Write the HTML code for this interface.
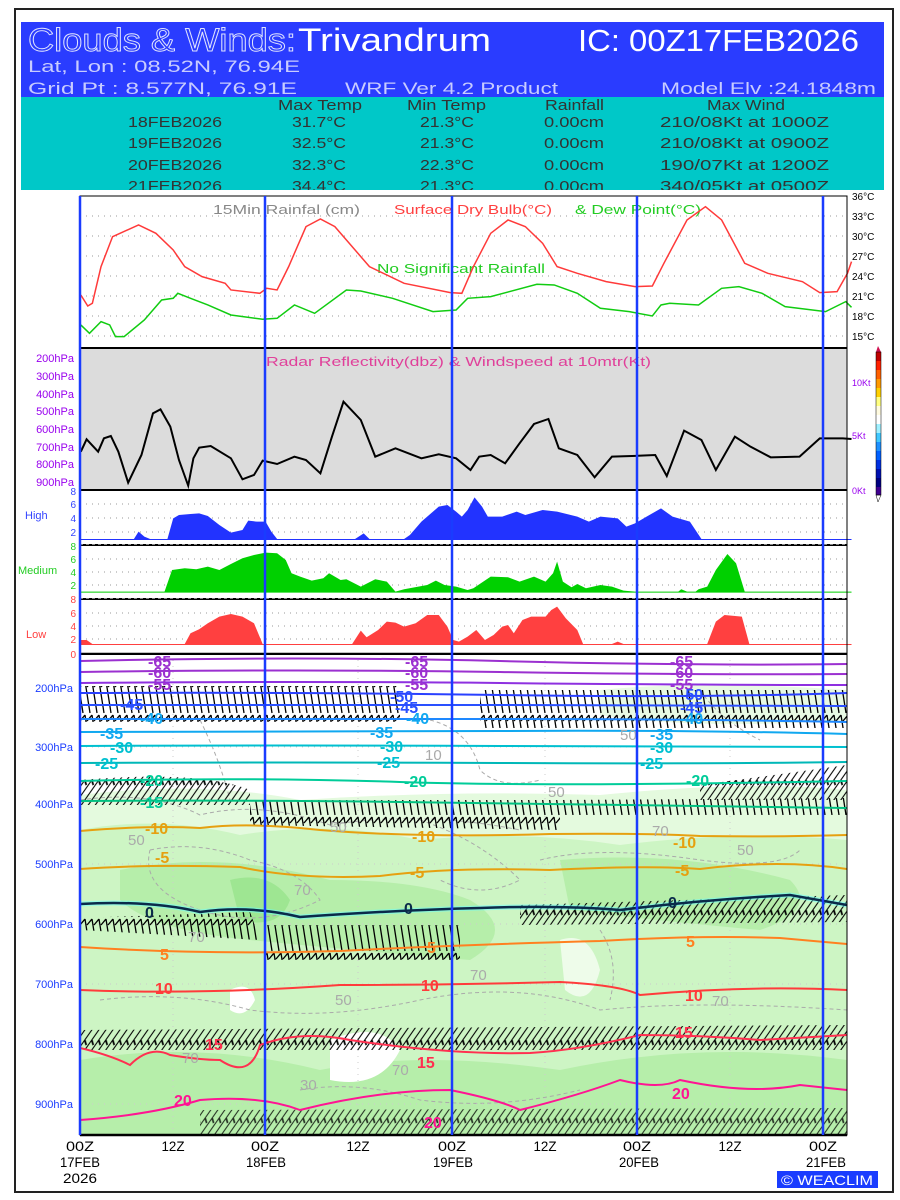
<!DOCTYPE html>
<html><head><meta charset="utf-8"><style>
html,body{margin:0;padding:0;background:#fff}
svg{display:block}
text{font-family:"Liberation Sans",sans-serif}
</style></head><body>
<svg width="900" height="1200" viewBox="0 0 900 1200" xmlns="http://www.w3.org/2000/svg">
<defs>
<pattern id="barb" width="7" height="34" patternUnits="userSpaceOnUse">
<path d="M1 1 L6 33 M1 1 L-4 7 M8 1 L3 7" stroke="#000" stroke-width="1.3" fill="none"/>
</pattern>
<pattern id="barb2" width="7" height="26" patternUnits="userSpaceOnUse" patternTransform="skewX(-35)">
<path d="M1 0 L1 26 M1 0 L6 5" stroke="#000" stroke-width="1.3" fill="none"/>
</pattern>
</defs>
<rect x="15" y="9" width="878" height="1183" fill="#fff" stroke="#222" stroke-width="2"/>
<!-- header -->
<rect x="21" y="22" width="863" height="76" fill="#2a3cff"/>
<rect x="21" y="97" width="863" height="93" fill="#00c8c8"/>
<text x="28" y="51" font-family="Liberation Serif,serif" font-size="32" fill="#2a3cff" stroke="#e0e4ff" stroke-width="0.9" textLength="268" lengthAdjust="spacingAndGlyphs">Clouds &amp; Winds:</text>
<text x="298" y="51" font-family="Liberation Serif,serif" font-size="32" fill="#fff" textLength="193" lengthAdjust="spacingAndGlyphs">Trivandrum</text>
<text x="578" y="51" font-size="31" fill="#fff" textLength="281" lengthAdjust="spacingAndGlyphs">IC: 00Z17FEB2026</text>
<text x="28" y="72" font-size="17" fill="#c8ccff" textLength="272" lengthAdjust="spacingAndGlyphs">Lat, Lon : 08.52N, 76.94E</text>
<text x="28" y="94" font-size="17" fill="#c8ccff" textLength="269" lengthAdjust="spacingAndGlyphs">Grid Pt   : 8.577N, 76.91E</text>
<text x="345" y="94" font-size="17" fill="#c8ccff" textLength="213" lengthAdjust="spacingAndGlyphs">WRF Ver 4.2 Product</text>
<text x="661" y="94" font-size="17" fill="#c8ccff" textLength="215" lengthAdjust="spacingAndGlyphs">Model Elv :24.1848m</text>
<g font-size="15" fill="#333">
<text x="278" y="110" textLength="84" lengthAdjust="spacingAndGlyphs">Max Temp</text>
<text x="407" y="110" textLength="79" lengthAdjust="spacingAndGlyphs">Min Temp</text>
<text x="545" y="110" textLength="59" lengthAdjust="spacingAndGlyphs">Rainfall</text>
<text x="707" y="110" textLength="78" lengthAdjust="spacingAndGlyphs">Max Wind</text>
<text x="128" y="127" textLength="94" lengthAdjust="spacingAndGlyphs">18FEB2026</text>
<text x="292" y="127" textLength="54" lengthAdjust="spacingAndGlyphs">31.7°C</text>
<text x="420" y="127" textLength="54" lengthAdjust="spacingAndGlyphs">21.3°C</text>
<text x="544" y="127" textLength="60" lengthAdjust="spacingAndGlyphs">0.00cm</text>
<text x="660" y="127" textLength="169" lengthAdjust="spacingAndGlyphs">210/08Kt at 1000Z</text>
<text x="128" y="148" textLength="94" lengthAdjust="spacingAndGlyphs">19FEB2026</text>
<text x="292" y="148" textLength="54" lengthAdjust="spacingAndGlyphs">32.5°C</text>
<text x="420" y="148" textLength="54" lengthAdjust="spacingAndGlyphs">21.3°C</text>
<text x="544" y="148" textLength="60" lengthAdjust="spacingAndGlyphs">0.00cm</text>
<text x="660" y="148" textLength="169" lengthAdjust="spacingAndGlyphs">210/08Kt at 0900Z</text>
<text x="128" y="170" textLength="94" lengthAdjust="spacingAndGlyphs">20FEB2026</text>
<text x="292" y="170" textLength="54" lengthAdjust="spacingAndGlyphs">32.3°C</text>
<text x="420" y="170" textLength="54" lengthAdjust="spacingAndGlyphs">22.3°C</text>
<text x="544" y="170" textLength="60" lengthAdjust="spacingAndGlyphs">0.00cm</text>
<text x="660" y="170" textLength="169" lengthAdjust="spacingAndGlyphs">190/07Kt at 1200Z</text>
<text x="128" y="191" textLength="94" lengthAdjust="spacingAndGlyphs">21FEB2026</text>
<text x="292" y="191" textLength="54" lengthAdjust="spacingAndGlyphs">34.4°C</text>
<text x="420" y="191" textLength="54" lengthAdjust="spacingAndGlyphs">21.3°C</text>
<text x="544" y="191" textLength="60" lengthAdjust="spacingAndGlyphs">0.00cm</text>
<text x="660" y="191" textLength="169" lengthAdjust="spacingAndGlyphs">340/05Kt at 0500Z</text>
</g>
<rect x="21" y="190" width="863" height="6" fill="#fff"/>

<!-- temp panel -->
<g stroke="#999" stroke-dasharray="1,5" stroke-width="1">
<line x1="80" y1="216" x2="847" y2="216"/><line x1="80" y1="236" x2="847" y2="236"/><line x1="80" y1="256" x2="847" y2="256"/><line x1="80" y1="276" x2="847" y2="276"/><line x1="80" y1="296" x2="847" y2="296"/><line x1="80" y1="316" x2="847" y2="316"/><line x1="80" y1="336" x2="847" y2="336"/>
</g>
<line x1="80" y1="196" x2="847" y2="196" stroke="#000" stroke-dasharray="3,2"/>
<g stroke="#000" stroke-width="1"><line x1="847" y1="196" x2="847" y2="348"/></g>
<g font-size="10" fill="#000">
<text x="852" y="200">36°C</text><text x="852" y="220">33°C</text><text x="852" y="240">30°C</text><text x="852" y="260">27°C</text><text x="852" y="280">24°C</text><text x="852" y="300">21°C</text><text x="852" y="320">18°C</text><text x="852" y="340">15°C</text>
</g>
<text x="213" y="214" font-size="13" fill="#888" textLength="147" lengthAdjust="spacingAndGlyphs">15Min Rainfal (cm)</text>
<text x="394" y="214" font-size="13" fill="#ff4040" textLength="158" lengthAdjust="spacingAndGlyphs">Surface Dry Bulb(°C)</text>
<text x="575" y="214" font-size="13" fill="#22cc22" textLength="126" lengthAdjust="spacingAndGlyphs">&amp; Dew Point(°C)</text>
<text x="377" y="273" font-size="13" fill="#22cc22" textLength="168" lengthAdjust="spacingAndGlyphs">No Significant Rainfall</text>
<g transform="scale(0.5773,0.3333)" fill="none" stroke-width="1.5">
<polyline vector-effect="non-scaling-stroke" stroke="#ff3a3a" points="140,885 152,918 160,910 175,800 195,710 240,675 270,700 300,750 320,800 350,830 390,850 400,870 450,880 462,865 480,870 500,800 530,680 555,657 580,680 610,740 640,800 700,850 780,878 800,880 820,800 850,700 880,660 910,680 940,730 965,800 1000,820 1050,845 1100,860 1130,858 1150,790 1190,660 1222,620 1250,660 1290,790 1330,820 1390,845 1420,878 1450,875 1468,820 1475,785"/>
<polyline vector-effect="non-scaling-stroke" stroke="#11cc11" points="140,975 155,1000 175,965 190,975 200,1010 215,1010 250,960 280,900 300,895 308,880 330,895 360,915 400,945 455,958 480,955 510,915 545,940 600,870 625,873 680,895 750,935 790,930 810,895 850,890 930,853 960,855 1000,880 1040,925 1090,935 1130,948 1145,915 1160,910 1210,915 1250,865 1280,860 1320,880 1360,920 1430,935 1465,905 1475,922"/>
</g>

<!-- radar panel -->
<rect x="80" y="348" width="767" height="142" fill="#dcdcdc"/>
<line x1="80" y1="348" x2="847" y2="348" stroke="#000" stroke-width="2"/>
<line x1="80" y1="490" x2="847" y2="490" stroke="#000" stroke-width="2"/>
<text x="266" y="366" font-size="13" fill="#e0409a" textLength="385" lengthAdjust="spacingAndGlyphs">Radar Reflectivity(dbz) &amp; Windspeed at 10mtr(Kt)</text>
<g font-size="11" fill="#9900ee" text-anchor="end">
<text x="74" y="362">200hPa</text><text x="74" y="380">300hPa</text><text x="74" y="398">400hPa</text><text x="74" y="415">500hPa</text><text x="74" y="433">600hPa</text><text x="74" y="451">700hPa</text><text x="74" y="468">800hPa</text><text x="74" y="486">900hPa</text>
</g>
<g font-size="9" fill="#9900ee"><text x="852" y="386">10Kt</text><text x="852" y="439">5Kt</text><text x="852" y="494">0Kt</text></g>
<g transform="translate(0,340) scale(0.5773,0.3333)" fill="none">
<polyline vector-effect="non-scaling-stroke" stroke="#000" stroke-width="2" points="140,335 150,298 170,335 180,295 192,288 205,335 222,428 245,345 265,220 278,208 295,260 310,360 326,437 335,355 345,323 365,318 400,355 420,418 440,405 455,362 480,372 510,350 530,360 555,400 575,290 595,185 625,240 650,350 685,325 730,355 760,343 790,355 815,390 830,350 850,345 875,370 900,310 925,252 950,237 968,325 1000,345 1030,412 1060,350 1110,347 1135,345 1155,408 1185,272 1215,300 1240,390 1273,290 1300,320 1335,352 1385,350 1420,295 1460,295 1475,297"/>
</g>
<!-- colorbar -->
<g>
<polygon points="878,346 876,352 881,352" fill="#d01050"/>
<rect x="876" y="352" width="5" height="9" fill="#c00000"/><rect x="876" y="361" width="5" height="9" fill="#ff2000"/><rect x="876" y="370" width="5" height="9" fill="#ff6000"/><rect x="876" y="379" width="5" height="9" fill="#ff9900"/><rect x="876" y="388" width="5" height="9" fill="#ffd000"/><rect x="876" y="397" width="5" height="9" fill="#ffff80"/><rect x="876" y="406" width="5" height="9" fill="#fffbe0"/><rect x="876" y="415" width="5" height="9" fill="#ffffff"/><rect x="876" y="424" width="5" height="9" fill="#a0f0ff"/><rect x="876" y="433" width="5" height="9" fill="#40c8ff"/><rect x="876" y="442" width="5" height="9" fill="#1e90ff"/><rect x="876" y="451" width="5" height="9" fill="#0060ff"/><rect x="876" y="460" width="5" height="9" fill="#0030e0"/><rect x="876" y="469" width="5" height="9" fill="#0010b0"/><rect x="876" y="478" width="5" height="9" fill="#000080"/><rect x="876" y="487" width="5" height="8" fill="#400090"/>
<polygon points="876,495 881,495 878,502" fill="#fff" stroke="#000" stroke-width="0.5"/>
<rect x="876" y="352" width="5" height="143" fill="none" stroke="#000" stroke-width="0.5"/>
</g>

<!-- cloud panels -->
<g stroke="#999" stroke-dasharray="1,5">
<line x1="80" y1="504" x2="847" y2="504"/><line x1="80" y1="518" x2="847" y2="518"/><line x1="80" y1="532" x2="847" y2="532"/>
<line x1="80" y1="559" x2="847" y2="559"/><line x1="80" y1="572" x2="847" y2="572"/><line x1="80" y1="585" x2="847" y2="585"/>
<line x1="80" y1="613" x2="847" y2="613"/><line x1="80" y1="626" x2="847" y2="626"/><line x1="80" y1="639" x2="847" y2="639"/>
</g>
<g transform="translate(0,340) scale(0.5773,0.3333)">
<polygon fill="#2233ff" points="140,597 232,597 240,575 250,590 260,597 290,597 300,535 310,525 330,522 345,520 360,528 380,555 400,578 420,570 430,542 445,545 460,545 470,575 480,597 615,597 630,580 640,597 700,597 710,585 730,545 760,500 775,495 790,515 800,530 810,510 822,472 835,500 845,530 870,530 895,515 910,525 940,510 965,515 1000,530 1020,545 1040,530 1070,535 1085,560 1100,550 1120,530 1145,505 1165,530 1195,545 1215,597 1475,597 1475,600 140,600"/>
<polygon fill="#00d000" points="140,755 285,755 298,690 320,685 340,688 360,680 380,690 400,672 420,655 440,645 460,638 480,640 495,660 505,700 520,710 540,722 560,715 570,700 590,720 600,718 625,740 650,718 670,725 685,755 700,748 740,735 755,722 770,735 790,740 810,750 820,745 850,710 880,712 900,725 925,710 945,725 958,700 965,665 975,725 990,742 1000,732 1015,745 1040,735 1060,740 1080,752 1100,755 1175,755 1180,748 1190,755 1205,755 1210,748 1225,740 1240,690 1260,642 1275,670 1290,755 1475,755 1475,758 140,758"/>
<polygon fill="#ff4040" points="140,900 150,900 160,912 320,912 330,880 345,868 360,850 380,830 400,822 420,830 440,850 455,912 610,912 625,872 635,892 655,870 670,845 685,848 700,860 720,850 740,825 760,825 775,860 785,900 795,905 810,890 825,870 840,900 855,885 870,860 880,855 890,880 905,840 920,830 945,830 955,810 965,800 980,835 1000,870 1010,912 1060,912 1070,905 1080,912 1225,912 1240,845 1255,825 1285,830 1298,912 1475,912 1475,915 140,915"/>
</g>
<line x1="80" y1="545" x2="847" y2="545" stroke="#000" stroke-width="2"/>
<line x1="80" y1="544" x2="847" y2="544" stroke="#fff" stroke-dasharray="3,3"/>
<line x1="80" y1="599" x2="847" y2="599" stroke="#000" stroke-width="2"/>
<line x1="80" y1="598" x2="847" y2="598" stroke="#fff" stroke-dasharray="3,3"/>
<line x1="80" y1="654" x2="847" y2="654" stroke="#000" stroke-width="2.5"/>
<g font-size="10" text-anchor="end">
<g fill="#3344ff"><text x="76" y="495">8</text><text x="76" y="508">6</text><text x="76" y="522">4</text><text x="76" y="536">2</text></g>
<g fill="#22cc22"><text x="76" y="550">8</text><text x="76" y="563">6</text><text x="76" y="576">4</text><text x="76" y="589">2</text></g>
<g fill="#ff4040"><text x="76" y="603">8</text><text x="76" y="617">6</text><text x="76" y="630">4</text><text x="76" y="643">2</text><text x="76" y="658">0</text></g>
</g>
<text x="25" y="519" font-size="11" fill="#3344ff">High</text>
<text x="18" y="574" font-size="11" fill="#22cc22">Medium</text>
<text x="26" y="638" font-size="11" fill="#ff4040">Low</text>

<!-- bottom panel -->
<svg x="80" y="655" width="767" height="480" viewBox="80 655 767 480" overflow="hidden">
<rect x="80" y="655" width="767" height="480" fill="#fff"/>
<path d="M80 795 Q200 780 300 800 Q450 790 600 795 Q750 780 847 790 L847 1135 L80 1135Z" fill="#e4fade"/>
<path d="M80 830 Q160 815 240 835 Q330 820 420 840 Q520 830 620 845 Q740 830 847 840 L847 1135 L80 1135Z" fill="#cdf5c4"/>
<path d="M120 870 Q220 850 330 880 Q420 880 470 900 Q520 930 470 960 Q350 950 250 940 Q150 930 120 900Z" fill="#b6eeaa"/>
<path d="M560 860 Q680 850 790 880 Q820 910 760 930 Q650 920 570 910Z" fill="#b6eeaa"/>
<path d="M230 880 Q270 870 290 900 Q280 930 240 920Z" fill="#9ee692"/>
<path d="M80 1060 Q200 1040 320 1070 Q420 1050 560 1070 Q700 1040 847 1060 L847 1135 L80 1135Z" fill="#b6eeaa"/>
<path d="M330 1040 Q380 1020 400 1050 Q380 1090 330 1080Z" fill="#fff"/>
<path d="M230 990 Q250 980 255 1000 Q245 1020 230 1010Z" fill="#fff"/>
<path d="M560 940 Q590 930 600 970 Q590 1010 565 990Z" fill="#eefcea"/>
<path d="M600 690 Q700 680 847 690 L847 720 Q700 730 600 715Z" fill="#e8fae4"/>
<g stroke="#aaa" stroke-dasharray="4,3" fill="none">
<path d="M80 800 Q150 790 200 815 Q260 800 330 825 Q420 810 520 830"/>
<path d="M150 850 Q200 840 250 860 Q300 870 320 900 Q260 930 200 910 Q140 890 150 850"/>
<path d="M420 820 Q480 840 520 880 Q480 900 440 880"/>
<path d="M540 860 Q600 845 700 860 Q780 870 800 850"/>
<path d="M600 930 Q620 960 610 1000"/>
<path d="M100 1000 Q180 990 250 1010 Q330 1020 420 1000 Q520 980 600 1010 Q700 1000 847 1010"/>
<path d="M300 1090 Q360 1080 420 1100 Q500 1110 580 1090"/>
<path d="M430 720 Q470 730 480 770 Q500 790 540 780"/>
<path d="M200 720 Q220 760 230 800"/>
<path d="M700 690 Q720 720 760 740"/>
</g>
<g stroke="#ccc" stroke-dasharray="1,5"><line x1="80" y1="864" x2="847" y2="864"/><line x1="80" y1="924" x2="847" y2="924"/><line x1="80" y1="984" x2="847" y2="984"/><line x1="80" y1="1104" x2="847" y2="1104"/><line x1="80" y1="747" x2="847" y2="747"/><line x1="173" y1="654" x2="173" y2="1135"/><line x1="358" y1="654" x2="358" y2="1135"/><line x1="545" y1="654" x2="545" y2="1135"/><line x1="730" y1="654" x2="730" y2="1135"/></g>
<!-- wind barbs -->
<g>
<path d="M80 686 L400 686 L400 722 L80 722Z" fill="url(#barb)"/>
<path d="M480 690 L847 690 L847 728 L480 728Z" fill="url(#barb)"/>
<path d="M80 780 Q200 770 250 790 L250 805 L80 805Z" fill="url(#barb2)"/>
<path d="M250 800 L560 800 L560 830 L250 825Z" fill="url(#barb)"/>
<path d="M560 800 L847 798 L847 815 L560 815Z" fill="url(#barb)"/>
<path d="M700 785 L847 765 L847 800 L700 800Z" fill="url(#barb2)"/>
<path d="M80 918 L250 912 L260 940 L80 930Z" fill="url(#barb)"/>
<path d="M265 925 L460 925 L460 960 L265 960Z" fill="url(#barb)"/>
<path d="M520 905 L847 895 L847 922 L520 925Z" fill="url(#barb2)"/>
<path d="M80 1030 L847 1025 L847 1050 L80 1050Z" fill="url(#barb2)"/>
<path d="M200 1110 L847 1108 L847 1135 L200 1135Z" fill="url(#barb2)" opacity="0.8"/>
</g>
<!-- isotherms -->
<g fill="none" stroke-width="2">
<path d="M80 661 Q300 656 500 661 T847 664" stroke="#9b30d0"/>
<path d="M80 672 Q300 669 500 672 T847 674" stroke="#9b30d0"/>
<path d="M80 683 Q300 681 500 683 T847 685" stroke="#8e30e0"/>
<path d="M80 693 Q300 692 500 695 T847 693" stroke="#2a40ff"/>
<path d="M80 705 Q300 705 500 705 T847 706" stroke="#2a50ff"/>
<path d="M80 719 Q300 719 500 719 T847 722" stroke="#1e88ff"/>
<path d="M80 732 Q300 732 500 731 T847 734" stroke="#10a8f0"/>
<path d="M80 746 Q300 745 500 746 T847 747" stroke="#00c0d0"/>
<path d="M80 763 Q300 762 500 763 T847 762" stroke="#00b8b8"/>
<path d="M80 781 Q250 777 400 782 T847 781" stroke="#00cc99"/>
<path d="M80 801 Q250 800 400 802 T847 808" stroke="#00c080"/>
<path d="M80 831 Q150 825 200 828 Q250 822 320 830 Q420 838 550 834 Q650 833 700 836 Q780 837 847 835" stroke="#e6a010"/>
<path d="M80 869 Q150 864 240 867 Q300 880 380 876 Q450 867 550 870 Q650 865 700 869 Q780 859 847 869" stroke="#e6a010"/>
<path d="M80 904 Q150 900 200 912 Q250 905 300 917 Q400 910 480 908 Q560 905 620 910 Q700 900 790 895 L847 905" stroke="#66ffff" stroke-width="5" opacity="0.5"/>
<path d="M80 904 Q150 900 200 912 Q250 905 300 917 Q400 910 480 908 Q560 905 620 910 Q700 900 790 895 L847 905" stroke="#0a2a4a" stroke-width="2.5"/>
<path d="M80 947 Q200 955 340 951 Q450 945 600 941 Q700 935 780 938 L847 944" stroke="#ff8020"/>
<path d="M80 990 Q200 995 340 985 Q450 985 560 982 Q620 985 640 995 Q750 985 847 990" stroke="#ff3b3b"/>
<path d="M80 1048 Q110 1055 130 1065 Q150 1045 170 1055 Q200 1060 220 1060 Q250 1080 260 1045 Q300 1030 350 1040 Q450 1055 530 1053 Q580 1050 640 1035 Q700 1035 760 1040 L847 1035" stroke="#ff3050"/>
<path d="M80 1120 Q150 1115 200 1100 Q260 1095 300 1110 Q380 1090 450 1090 Q500 1100 520 1110 Q580 1095 620 1080 Q660 1090 680 1080 Q750 1095 800 1085 L847 1090" stroke="#ff1493"/>
</g>
<g font-size="16" font-weight="bold">
<g fill="#9b30d0"><text x="148" y="667">-65</text><text x="148" y="678">-60</text><text x="148" y="690">-55</text><text x="405" y="667">-65</text><text x="405" y="678">-60</text><text x="405" y="690">-55</text><text x="670" y="667">-65</text><text x="670" y="678">-60</text><text x="670" y="690">-55</text></g>
<g fill="#2a50ff"><text x="120" y="710">-45</text><text x="390" y="702">-50</text><text x="395" y="713">-45</text><text x="680" y="700">-50</text><text x="680" y="713">-45</text></g>
<g fill="#10a8f0"><text x="140" y="724">-40</text><text x="406" y="724">-40</text><text x="100" y="739">-35</text><text x="370" y="738">-35</text><text x="650" y="740">-35</text><text x="680" y="724">-40</text></g>
<g fill="#00c0d0"><text x="110" y="753">-30</text><text x="380" y="752">-30</text><text x="650" y="753">-30</text><text x="95" y="769">-25</text><text x="377" y="768">-25</text><text x="640" y="769">-25</text></g>
<g fill="#00cc99"><text x="140" y="786">-20</text><text x="404" y="787">-20</text><text x="686" y="786">-20</text><text x="140" y="808">-15</text></g>
<g fill="#e6a010"><text x="145" y="834">-10</text><text x="412" y="842">-10</text><text x="673" y="848">-10</text><text x="155" y="863">-5</text><text x="410" y="878">-5</text><text x="675" y="876">-5</text></g>
<g fill="#0a2a4a"><text x="145" y="918">0</text><text x="404" y="914">0</text><text x="668" y="908">0</text></g>
<g fill="#ff8020"><text x="160" y="960">5</text><text x="427" y="953">5</text><text x="686" y="947">5</text></g>
<g fill="#ff3b3b"><text x="155" y="994">10</text><text x="421" y="991">10</text><text x="685" y="1001">10</text></g>
<g fill="#ff3050"><text x="205" y="1050">15</text><text x="417" y="1068">15</text><text x="675" y="1038">15</text></g>
<g fill="#ff1493"><text x="174" y="1106">20</text><text x="424" y="1128">20</text><text x="672" y="1099">20</text></g>
<g fill="#aaa" font-weight="normal" font-size="15"><text x="128" y="845">50</text><text x="294" y="895">70</text><text x="330" y="832">50</text><text x="188" y="942">70</text><text x="335" y="1005">50</text><text x="470" y="980">70</text><text x="392" y="1075">70</text><text x="300" y="1090">30</text><text x="548" y="797">50</text><text x="652" y="836">70</text><text x="737" y="855">50</text><text x="712" y="1006">70</text><text x="182" y="1063">70</text><text x="425" y="760">10</text><text x="620" y="740">50</text></g>
</g>
</svg>
<!-- panel frame -->
<rect x="80" y="196" width="767" height="939" fill="none" stroke="#000" stroke-width="1"/>
<line x1="80" y1="1135" x2="847" y2="1135" stroke="#000" stroke-width="2.5"/>
<!-- blue day lines -->
<g stroke="#1a3cff" stroke-width="2.5">
<line x1="80" y1="196" x2="80" y2="1135"/><line x1="265" y1="196" x2="265" y2="1135"/><line x1="452" y1="196" x2="452" y2="1135"/><line x1="637" y1="196" x2="637" y2="1135"/><line x1="823" y1="196" x2="823" y2="1135"/>
</g>
<g font-size="11" fill="#1a3cff" text-anchor="end">
<text x="73" y="692">200hPa</text><text x="73" y="751">300hPa</text><text x="73" y="808">400hPa</text><text x="73" y="868">500hPa</text><text x="73" y="928">600hPa</text><text x="73" y="988">700hPa</text><text x="73" y="1048">800hPa</text><text x="73" y="1108">900hPa</text>
</g>
<g font-size="14" fill="#000" text-anchor="middle">
<text x="80" y="1151" textLength="28" lengthAdjust="spacingAndGlyphs">00Z</text>
<text x="173" y="1151" textLength="23" lengthAdjust="spacingAndGlyphs">12Z</text>
<text x="265" y="1151" textLength="28" lengthAdjust="spacingAndGlyphs">00Z</text>
<text x="358" y="1151" textLength="23" lengthAdjust="spacingAndGlyphs">12Z</text>
<text x="452" y="1151" textLength="28" lengthAdjust="spacingAndGlyphs">00Z</text>
<text x="545" y="1151" textLength="23" lengthAdjust="spacingAndGlyphs">12Z</text>
<text x="637" y="1151" textLength="28" lengthAdjust="spacingAndGlyphs">00Z</text>
<text x="730" y="1151" textLength="23" lengthAdjust="spacingAndGlyphs">12Z</text>
<text x="823" y="1151" textLength="28" lengthAdjust="spacingAndGlyphs">00Z</text>
<text x="80" y="1167" textLength="40" lengthAdjust="spacingAndGlyphs">17FEB</text>
<text x="80" y="1183" textLength="34" lengthAdjust="spacingAndGlyphs">2026</text>
<text x="266" y="1167" textLength="40" lengthAdjust="spacingAndGlyphs">18FEB</text>
<text x="453" y="1167" textLength="40" lengthAdjust="spacingAndGlyphs">19FEB</text>
<text x="639" y="1167" textLength="40" lengthAdjust="spacingAndGlyphs">20FEB</text>
<text x="826" y="1167" textLength="40" lengthAdjust="spacingAndGlyphs">21FEB</text>
</g>
<rect x="777" y="1171" width="101" height="17" fill="#1a3cff"/>
<text x="781" y="1185" font-size="14" fill="#fff" textLength="92" lengthAdjust="spacingAndGlyphs">© WEACLIM</text>
</svg>
</body></html>
